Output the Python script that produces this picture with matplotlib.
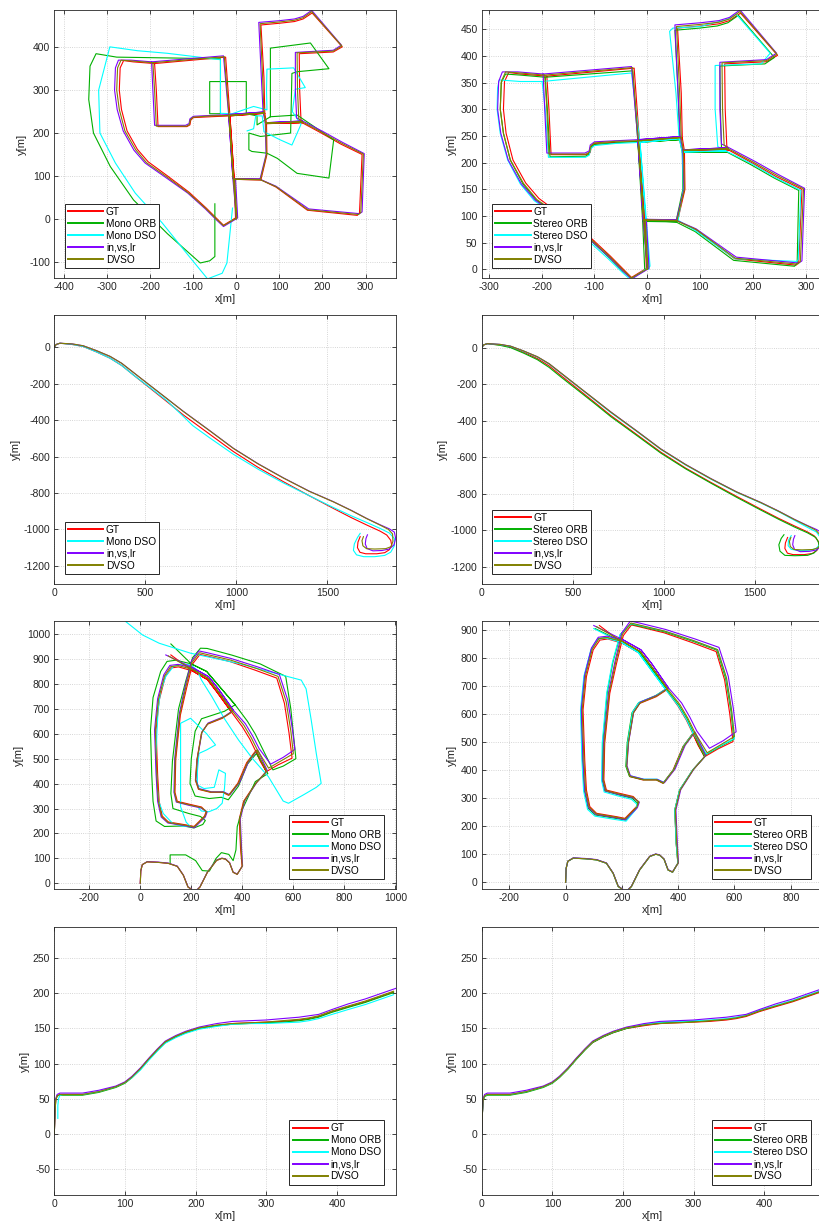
import numpy as np
import matplotlib
matplotlib.use('Agg')
import matplotlib.pyplot as plt

plt.rcParams['font.family'] = ['Liberation Sans', 'DejaVu Sans']
plt.rcParams['axes.unicode_minus'] = False

# ---------------- sequence A (rows 1) ----------------
gt00 = [(0,0),(-5,92),(-15,240),(-60,238),(-100,236),(-106,230),(-108,219),(-115,215),(-182,215),(-186,300),(-190,362),(-240,366),(-262,369),(-270,352),(-272,300),(-267,255),(-254,205),(-230,162),(-205,133),(-160,100),(-110,62),(-70,25),(-45,0),(-30,-15),(-2,2),(-5,92),(57,91),(92,74),(165,20),(281,8),(286,14),(292,150),(243,174),(199,199),(153,224),(150,232),(147,300),(146,385),(225,389),(246,401),(176,480),(155,466),(135,460),(100,456),(57,452),(64,330),(66,246),(70,222),(153,224),(70,222),(71,150),(57,91),(-5,92),(-15,240),(66,246),(-15,240),(-25,377),(-190,362)]
inv00 = [(0,0),(-8,92),(-18,243),(-60,241),(-100,239),(-108,233),(-110,222),(-118,218),(-190,218),(-194,300),(-197,366),(-245,370),(-274,370),(-281,352),(-283,300),(-277,255),(-263,205),(-238,160),(-212,130),(-165,97),(-113,60),(-72,23),(-47,-2),(-30,-18),(3,2),(-2,92),(55,92),(92,76),(168,23),(286,12),(292,16),(297,152),(247,178),(202,203),(154,228),(140,235),(137,300),(137,388),(225,393),(244,405),(175,486),(155,472),(135,466),(100,462),(52,458),(58,330),(62,249),(67,224),(153,228),(67,224),(69,150),(55,93),(-8,94),(-18,243),(62,249),(-18,243),(-30,380),(-197,366)]
dvso00 = [(0,0),(-7,92),(-17,241),(-60,240),(-100,237),(-107,231),(-109,220),(-116,216),(-186,216),(-190,300),(-194,364),(-242,368),(-268,370),(-276,352),(-278,300),(-272,255),(-259,205),(-234,161),(-209,131),(-162,98),(-112,61),(-71,24),(-46,-1),(-30,-16),(1,2),(-4,92),(56,91),(92,75),(166,21),(284,10),(289,15),(295,151),(245,176),(200,201),(153,226),(145,233),(142,300),(141,387),(225,391),(245,403),(175,483),(155,469),(135,463),(100,459),(55,455),(61,330),(64,247),(68,223),(153,226),(68,223),(70,150),(56,92),(-7,93),(-17,241),(64,247),(-17,241),(-28,378),(-194,364)]
morb00 = [(-50,35),(-50,-88),(-62,-98),(-84,-103),(-160,-35),(-239,44),(-293,122),(-332,200),(-343,278),(-340,356),(-326,385),(-278,377),(-150,375),(-37,373),(-37,245),(-62,245),(-62,320),(23,320),(23,245),(48,240),(48,219),(79,238),(79,398),(172,410),(215,350),(141,343),(129,339),(126,200),(56,192),(29,200),(29,161),(36,157),(71,153),(95,141),(141,106),(215,95),(226,184),(141,242),(79,238)]
mdso00 = [(-9,25),(-22,-103),(-33,-127),(-67,-140),(-120,-75),(-172,-10),(-235,60),(-281,130),(-317,200),(-320,300),(-294,401),(-230,392),(-161,386),(-37,371),(-37,246),(-10,245),(40,262),(71,254),(70,300),(71,349),(133,352),(160,306),(137,302),(130,250),(150,220),(129,172),(102,184),(64,203),(60,240),(45,240),(40,210),(25,205)]
sorb00 = [(0,0),(-7,92),(-18,240),(-60,237),(-100,234),(-108,228),(-110,216),(-117,212),(-184,211),(-189,300),(-193,360),(-240,364),(-268,366),(-276,350),(-278,300),(-272,255),(-259,205),(-235,160),(-210,130),(-163,97),(-112,59),(-72,22),(-47,-3),(-30,-17),(-5,-2),(-9,92),(54,89),(90,71),(163,17),(278,6),(283,12),(286,148),(240,171),(196,196),(150,220),(140,228),(138,300),(137,381),(222,385),(240,397),(172,476),(152,462),(132,456),(98,452),(52,448),(58,330),(61,243),(66,219),(150,220),(66,219),(67,150),(54,89),(-9,90),(-18,238),(61,243),(-18,238),(-28,372),(-193,360)]
sdso00 = [(3,0),(-3,92),(-14,238),(-60,236),(-100,232),(-107,226),(-110,214),(-117,210),(-187,210),(-193,300),(-199,352),(-240,352),(-280,355),(-283,340),(-284,300),(-278,255),(-264,205),(-240,160),(-214,129),(-166,95),(-114,56),(-74,20),(-48,-5),(-32,-19),(5,6),(-2,92),(58,92),(92,72),(166,20),(282,15),(285,18),(290,148),(242,172),(197,198),(148,222),(133,230),(128,300),(128,382),(215,385),(232,405),(168,478),(150,468),(100,455),(48,452),(42,446),(54,330),(60,245),(66,220),(148,222),(66,220),(68,150),(58,92),(-2,93),(-14,238),(60,245),(-14,238),(-30,368),(-199,352)]

# ---------------- sequence B (row 2) ----------------
gt01 = [(0,0),(10,15),(31,22),(100,15),(159,4),(230,-25),(306,-60),(370,-100),(434,-152),(526,-225),(620,-300),(709,-372),(850,-475),(984,-573),(1120,-660),(1258,-738),(1400,-815),(1533,-885),(1630,-935),(1716,-976),(1790,-1010),(1826,-1031),(1848,-1060),(1853,-1086),(1840,-1112),(1815,-1128),(1771,-1134),(1710,-1134),(1679,-1126),(1665,-1100),(1668,-1070),(1680,-1040)]
mdso01 = [(0,0),(10,15),(31,22),(100,15),(159,4),(230,-25),(306,-60),(370,-100),(434,-152),(526,-222),(620,-295),(709,-380),(760,-430),(850,-495),(984,-588),(1120,-670),(1258,-745),(1400,-815),(1533,-880),(1630,-925),(1716,-962),(1790,-995),(1840,-1020),(1868,-1050),(1868,-1090),(1848,-1125),(1815,-1143),(1760,-1150),(1700,-1150),(1660,-1140),(1643,-1115),(1648,-1080),(1665,-1045),(1680,-1022)]
inv01 = [(0,0),(10,15),(31,22),(100,18),(159,8),(230,-18),(306,-50),(370,-88),(434,-138),(526,-210),(620,-283),(709,-352),(850,-455),(984,-555),(1120,-640),(1258,-717),(1400,-790),(1533,-848),(1630,-895),(1716,-940),(1790,-975),(1840,-997),(1868,-1015),(1875,-1050),(1866,-1085),(1840,-1108),(1800,-1116),(1750,-1118),(1718,-1105),(1708,-1080),(1712,-1050),(1720,-1030)]
dvso01 = [(0,0),(10,15),(31,22),(100,18),(159,8),(230,-18),(306,-50),(370,-88),(434,-138),(526,-210),(620,-283),(709,-353),(850,-456),(984,-556),(1120,-641),(1258,-718),(1400,-791),(1533,-849),(1630,-896),(1716,-941),(1790,-977),(1835,-1000),(1858,-1025),(1860,-1065),(1850,-1095),(1820,-1106),(1760,-1108),(1715,-1106),(1695,-1090),(1690,-1062),(1698,-1040)]
sorb01 = [(0,0),(10,15),(31,22),(100,13),(159,0),(230,-30),(306,-66),(370,-108),(434,-160),(526,-232),(620,-306),(709,-378),(850,-480),(984,-578),(1120,-664),(1258,-742),(1400,-820),(1533,-890),(1630,-940),(1716,-982),(1790,-1015),(1835,-1040),(1852,-1070),(1848,-1100),(1825,-1125),(1790,-1138),(1720,-1140),(1665,-1138),(1638,-1115),(1632,-1080),(1645,-1045),(1660,-1025)]
sdso01 = [(0,0),(10,15),(31,22),(100,17),(159,7),(230,-20),(306,-52),(370,-90),(434,-140),(526,-212),(620,-286),(709,-356),(850,-458),(984,-558),(1120,-643),(1258,-720),(1400,-793),(1533,-851),(1630,-898),(1716,-945),(1790,-985),(1838,-1010),(1860,-1040),(1858,-1075),(1838,-1100),(1800,-1110),(1745,-1112),(1700,-1105),(1683,-1085),(1685,-1055),(1700,-1030)]

# ---------------- sequence C (row 3) ----------------
gt08 = [(0,0),(2,50),(8,75),(27,86),(70,84),(110,80),(145,68),(169,32),(187,-15),(205,-27),(222,-27),(234,-15),(263,44),(299,92),(320,100),(334,97),(350,82),(364,44),(380,36),(399,68),(393,139),(388,258),(405,329),(452,401),(494,448),
        (470,490),(452,531),(417,484),(382,401),(346,353),(322,365),(275,365),(228,377),(216,413),(222,496),(240,603),(263,638),(322,662),(358,686),
        (400,628),(429,579),(452,531),(494,448),
        (540,475),(595,502),(583,603),(565,722),(535,823),(450,855),(350,890),(260,912),(234,918),
        (205,880),(181,781),(157,674),(139,496),(136,365),(145,329),(193,317),(240,306),(258,288),(252,270),(211,228),(181,234),(110,246),(86,270),(74,329),(68,436),(62,615),(74,734),(98,829),(122,864),(150,868),
        (204,852),(263,817),(299,769),(358,686),
        (299,769),(263,817),(204,852),(120,916)]
inv08 = [(0,0),(2,50),(8,75),(27,87),(70,85),(110,81),(145,69),(169,33),(187,-14),(205,-26),(222,-26),(234,-14),(263,45),(299,93),(320,101),(334,98),(350,83),(364,45),(380,37),(401,70),(397,140),(392,258),(409,330),(456,404),(498,452),
         (478,495),(460,536),(425,489),(389,404),(351,355),(326,367),(279,367),(230,380),(218,416),(224,500),(242,607),(266,643),(327,668),(365,694),
         (412,640),(441,590),(466,540),(511,478),
         (560,505),(606,537),(596,620),(578,735),(545,838),(460,868),(355,902),(262,925),(230,932),
         (200,890),(176,790),(153,680),(135,500),(132,365),(141,326),(190,313),(238,302),(262,286),(255,266),(212,223),(180,230),(108,242),(82,266),(68,329),(62,436),(56,615),(68,740),(92,836),(116,874),(148,878),
         (206,864),(268,829),(306,780),(365,694),
         (306,780),(268,829),(206,864),(100,916)]
dvso08 = [(0,0),(2,50),(8,75),(27,86),(70,84),(110,80),(145,68),(169,32),(187,-15),(205,-27),(222,-27),(234,-15),(263,44),(299,92),(320,100),(334,97),(350,82),(364,44),(380,36),(400,69),(395,139),(390,258),(407,329),(454,402),(496,450),
          (474,492),(456,533),(421,486),(385,402),(348,354),(324,366),(277,366),(229,378),(217,414),(223,498),(241,605),(265,640),(324,665),(362,690),
          (406,634),(435,584),(459,535),(503,462),
          (550,490),(600,520),(590,612),(572,728),(540,830),(455,862),(352,896),(261,918),(232,925),
          (202,885),(178,785),(155,677),(137,498),(134,365),(143,327),(191,315),(239,304),(260,287),(253,268),(211,226),(180,232),(109,244),(84,268),(71,329),(65,436),(59,615),(71,737),(95,832),(119,869),(149,873),
          (205,858),(265,823),(302,774),(362,690),
          (302,774),(265,823),(205,858),(110,912)]
sorb08 = [(0,0),(2,50),(8,75),(27,86),(70,84),(110,80),(145,68),(169,32),(187,-15),(205,-27),(222,-27),(234,-15),(263,44),(299,92),(320,100),(334,97),(350,82),(364,44),(380,36),(399,68),(393,139),(388,258),(405,329),(452,401),(494,448),
          (472,492),(454,533),(419,486),(384,402),(347,354),(323,366),(276,366),(227,378),(214,414),(219,498),(236,605),(259,640),(320,666),(357,690),
          (402,632),(432,582),(455,533),(498,455),
          (545,482),(598,510),(588,608),(569,726),(538,828),(452,860),(350,894),(258,915),(232,921),
          (195,885),(168,785),(148,677),(132,498),(130,365),(139,326),(188,312),(236,300),(256,282),(250,262),(213,222),(178,228),(106,240),(80,264),(66,329),(60,436),(55,615),(67,737),(92,832),(115,869),(145,873),
          (200,858),(260,822),(296,773),(357,690),
          (296,773),(260,822),(200,858),(105,905)]
sdso08 = [(0,0),(2,50),(8,75),(27,86),(70,84),(110,80),(145,68),(169,32),(187,-15),(205,-27),(222,-27),(234,-15),(263,44),(299,92),(320,100),(334,97),(350,82),(364,44),(380,36),(399,68),(393,139),(388,258),(405,329),(452,401),(496,450),
          (474,494),(456,535),(421,488),(386,404),(349,356),(325,368),(278,368),(229,380),(216,416),(221,500),(238,607),(261,642),(318,664),(355,688),
          (400,630),(430,580),(453,531),(500,458),
          (547,485),(600,513),(590,610),(571,728),(540,830),(454,862),(352,896),(260,917),(234,923),
          (193,883),(166,783),(146,675),(130,496),(128,362),(137,322),(186,308),(234,296),(254,278),(248,258),(215,218),(176,224),(104,236),(78,260),(64,325),(58,436),(53,615),(65,735),(90,830),(113,867),(143,871),
          (198,856),(258,820),(294,771),(355,688),
          (294,771),(258,820),(198,856),(100,905)]
morb08 = [(117,80),(117,114),(178,114),(217,91),(243,51),(271,49),(297,100),(318,123),(347,116),(364,91),(375,134),(380,227),(399,294),(451,408),(500,440),
          (480,480),(455,520),(420,478),(385,390),(345,335),(318,345),(270,340),(215,350),(195,400),(200,500),(215,610),(240,660),(330,690),(372,716),
          (420,650),(450,600),(475,548),(520,455),
          (560,470),(610,500),(600,600),(590,700),(570,830),(470,880),(360,915),(262,942),(236,943),
          (205,905),(178,810),(150,700),(126,490),(120,360),(128,300),(190,280),(236,268),(255,252),(245,236),(210,222),(170,230),(95,228),(62,250),(50,329),(45,436),(40,615),(50,745),(80,850),(105,890),(140,895),
          (200,880),(260,850),(310,790),(372,716),
          (310,790),(260,850),(200,880),(120,960)]
mdso08 = [(-56,1049),(9,996),(74,963),(197,923),(385,882),(520,845),(631,815),(650,780),(670,655),(690,520),(709,401),(690,385),(640,355),(581,321),(560,330),(502,428),(440,500),(385,575),(330,660),(281,748),(240,815),(223,855),(200,875),(165,880),(130,870),(100,830),(80,770),(70,700),(65,600),(62,500),(65,400),(72,330),(90,280),(126,241),(160,230),(197,227),(180,245),(158,307),(158,450),(158,642),(197,662),(260,600),(295,555),(260,535),(230,521),(224,450),(224,394),(250,380),(290,385),(308,455),(334,441),(330,380),(321,321),(300,300),(269,287),(240,290),(230,300)]

# ---------------- sequence D (row 4) ----------------
gt04 = [(0,0),(1,30),(2,48),(4,54),(8,56),(20,56),(40,56),(63,60),(87,67),(100,73),(110,81),(122,93),(134,107),(146,120),(157,130),(172,138),(186,144),(205,150),(230,154),(252,157),(275,158),(299,159),(322,160),(346,162),(360,164),(374,167),(393,174),(416,181),(440,188),(460,195),(480,202)]
inv04 = [(0,0),(1,30),(2,50),(4,56),(8,58),(20,58),(40,58),(63,62),(87,68),(100,74),(110,82),(122,94),(134,108),(146,121),(157,132),(172,140),(186,146),(205,152),(230,157),(252,160),(275,161),(299,162),(322,164),(346,166),(360,168),(374,170),(393,177),(416,185),(440,192),(460,199),(483,207)]
dvso04 = [(0,0),(1,30),(2,48),(4,54),(8,56),(20,56),(40,56),(63,60),(87,67),(100,73),(110,81),(122,93),(134,107),(146,120),(157,131),(172,139),(186,145),(205,151),(230,155),(252,157),(275,158),(299,159),(322,161),(346,163),(360,165),(374,168),(393,175),(416,182),(440,189),(460,196),(480,203)]
morb04 = [(0,0),(1,30),(2,48),(4,54),(8,55),(20,55),(40,55),(63,59),(87,66),(100,72),(110,80),(122,92),(134,106),(146,119),(157,130),(172,138),(186,144),(205,150),(230,154),(252,156),(275,157),(299,158),(322,159),(346,161),(360,163),(374,166),(393,173),(416,180),(440,187),(460,194),(480,201)]
mdso04 = [(5,22),(5,40),(6,50),(8,55),(12,56),(20,56),(40,56),(63,60),(87,67),(100,73),(110,80),(122,91),(134,105),(146,118),(157,129),(172,137),(186,143),(205,149),(230,153),(252,156),(275,157),(299,157),(322,158),(346,159),(360,161),(374,164),(393,170),(416,177),(440,184),(460,191),(480,198)]
sorb04 = [(0,0),(1,30),(2,47),(4,53),(8,55),(20,55),(40,55),(63,59),(87,66),(100,72),(110,80),(122,92),(134,106),(146,119),(157,130),(172,138),(186,144),(205,150),(230,155),(252,158),(275,159),(299,160),(322,161),(346,163),(360,165),(374,168),(393,175),(416,182),(440,189),(460,196),(483,204)]
sdso04 = [(0,0),(1,30),(2,48),(4,54),(8,56),(20,56),(40,56),(63,60),(87,67),(100,73),(110,81),(122,93),(134,107),(146,120),(157,131),(172,139),(186,145),(205,151),(230,156),(252,159),(275,160),(299,161),(322,162),(346,164),(360,166),(374,169),(393,176),(416,183),(440,190),(460,197),(483,205)]

C_GT, C_ORB, C_DSO, C_INV, C_DVSO = '#ff0000', '#00b000', '#00ffff', '#8000ff', '#808000'

fig = plt.figure(figsize=(8.19, 12.30), dpi=100)
L, R, W = 0.0663, 0.5882, 0.4168
rows = [(0.7740, 0.2179), (0.5252, 0.2187), (0.2770, 0.2181), (0.0285, 0.2176)]

def setup(ax, xlim, ylim, xt, yt):
    ax.set_xticks(xt); ax.set_yticks(yt)
    ax.set_xlim(xlim); ax.set_ylim(ylim)
    ax.tick_params(direction='in', length=3, width=0.6, top=True, right=True,
                   labelsize=7.5, color='#262626', labelcolor='#262626', pad=3)
    ax.grid(True, linestyle=':', color='#c8c8c8', linewidth=0.6)
    ax.set_axisbelow(True)
    for s in ax.spines.values():
        s.set_color('#262626'); s.set_linewidth(0.6)
    ax.set_xlabel('x[m]', fontsize=8, labelpad=1, color='#262626')
    ax.set_ylabel('y[m]', fontsize=8, labelpad=2, color='#262626')

def draw(ax, series, loc):
    for data, color, label in series:
        a = np.array(data, dtype=float)
        ax.plot(a[:, 0], a[:, 1], color=color, lw=0.8, label=label)
    if loc == 'left':
        kw = dict(loc='lower left', bbox_to_anchor=(0.031, 0.038))
    else:
        kw = dict(loc='lower right', bbox_to_anchor=(1 - 0.035, 0.039))
    leg = ax.legend(borderaxespad=0, frameon=True, fancybox=False, edgecolor='#262626',
                    framealpha=1, fontsize=7.3, handlelength=3.5, handletextpad=0.25,
                    labelspacing=0.2, borderpad=0.3, **kw)
    leg.get_frame().set_linewidth(0.7)
    for ln in leg.get_lines():
        ln.set_linewidth(1.4)

# Row 1
ax = fig.add_axes([L, rows[0][0], W, rows[0][1]])
setup(ax, (-423, 370), (-138, 487), np.arange(-400, 301, 100), np.arange(-100, 401, 100))
draw(ax, [(gt00, C_GT, 'GT'), (morb00, C_ORB, 'Mono ORB'), (mdso00, C_DSO, 'Mono DSO'),
          (inv00, C_INV, 'in,vs,lr'), (dvso00, C_DVSO, 'DVSO')], 'left')
ax = fig.add_axes([R, rows[0][0], W, rows[0][1]])
setup(ax, (-313, 332), (-16, 486), np.arange(-300, 301, 100), np.arange(0, 451, 50))
draw(ax, [(gt00, C_GT, 'GT'), (sorb00, C_ORB, 'Stereo ORB'), (sdso00, C_DSO, 'Stereo DSO'),
          (inv00, C_INV, 'in,vs,lr'), (dvso00, C_DVSO, 'DVSO')], 'left')

# Row 2
ax = fig.add_axes([L, rows[1][0], W, rows[1][1]])
setup(ax, (0, 1875), (-1300, 177), np.arange(0, 1501, 500), np.arange(-1200, 1, 200))
draw(ax, [(gt01, C_GT, 'GT'), (mdso01, C_DSO, 'Mono DSO'),
          (inv01, C_INV, 'in,vs,lr'), (dvso01, C_DVSO, 'DVSO')], 'left')
ax = fig.add_axes([R, rows[1][0], W, rows[1][1]])
setup(ax, (0, 1875), (-1295, 179), np.arange(0, 1501, 500), np.arange(-1200, 1, 200))
draw(ax, [(gt01, C_GT, 'GT'), (sorb01, C_ORB, 'Stereo ORB'), (sdso01, C_DSO, 'Stereo DSO'),
          (inv01, C_INV, 'in,vs,lr'), (dvso01, C_DVSO, 'DVSO')], 'left')

# Row 3
ax = fig.add_axes([L, rows[2][0], W, rows[2][1]])
setup(ax, (-337, 1001), (-24, 1052), np.arange(-200, 1001, 200), np.arange(0, 1001, 100))
draw(ax, [(gt08, C_GT, 'GT'), (morb08, C_ORB, 'Mono ORB'), (mdso08, C_DSO, 'Mono DSO'),
          (inv08, C_INV, 'in,vs,lr'), (dvso08, C_DVSO, 'DVSO')], 'right')
ax = fig.add_axes([R, rows[2][0], W, rows[2][1]])
setup(ax, (-298, 915), (-25, 932), np.arange(-200, 801, 200), np.arange(0, 901, 100))
draw(ax, [(gt08, C_GT, 'GT'), (sorb08, C_ORB, 'Stereo ORB'), (sdso08, C_DSO, 'Stereo DSO'),
          (inv08, C_INV, 'in,vs,lr'), (dvso08, C_DVSO, 'DVSO')], 'right')

# Row 4
ax = fig.add_axes([L, rows[3][0], W, rows[3][1]])
setup(ax, (0, 483), (-87, 294), np.arange(0, 401, 100), np.arange(-50, 251, 50))
draw(ax, [(gt04, C_GT, 'GT'), (morb04, C_ORB, 'Mono ORB'), (mdso04, C_DSO, 'Mono DSO'),
          (inv04, C_INV, 'in,vs,lr'), (dvso04, C_DVSO, 'DVSO')], 'right')
ax = fig.add_axes([R, rows[3][0], W, rows[3][1]])
setup(ax, (0, 483), (-87, 294), np.arange(0, 401, 100), np.arange(-50, 251, 50))
draw(ax, [(gt04, C_GT, 'GT'), (sorb04, C_ORB, 'Stereo ORB'), (sdso04, C_DSO, 'Stereo DSO'),
          (inv04, C_INV, 'in,vs,lr'), (dvso04, C_DVSO, 'DVSO')], 'right')

fig.savefig('out.png', dpi=100)
